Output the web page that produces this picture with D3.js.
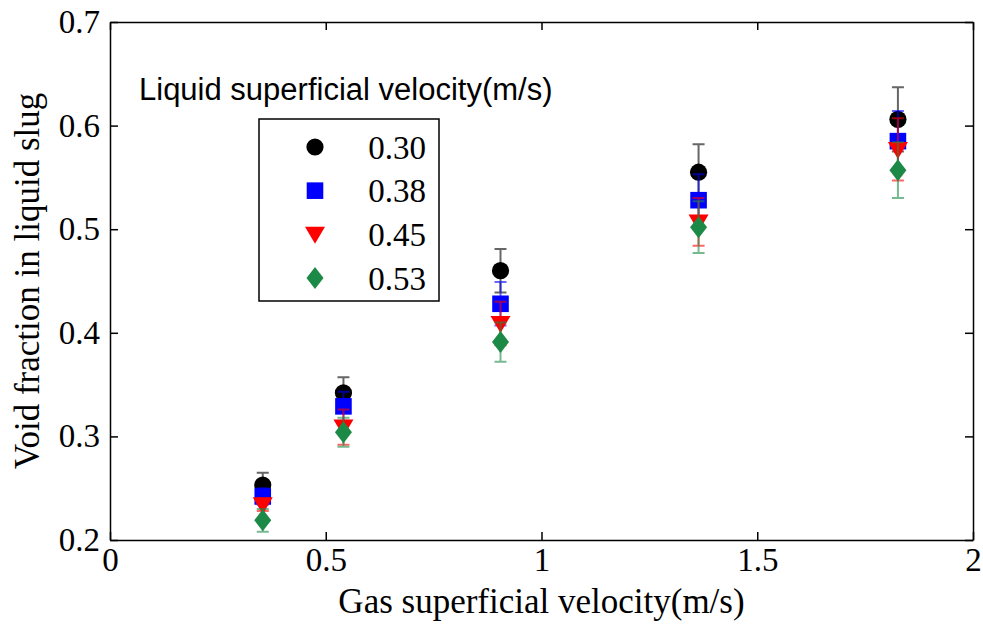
<!DOCTYPE html>
<html lang="en">
  <head>
    <meta charset="utf-8" />
    <title>Void fraction in liquid slug</title>
    <script type="text/javascript" src="https://d3js.org/d3.v7.min.js"></script>
    <style>
      body { margin: 0; background: #fff; }
      .axis path, .axis line { stroke: black; stroke-width: 1.5px; }
      .axis text { font-family: "Liberation Serif", "Times New Roman", serif; font-size: 33px; fill: black; }
      .atitle { font-family: "Liberation Serif", "Times New Roman", serif; font-size: 35px; fill: black; }
      .errbar { fill: none; stroke-width: 2px; stroke-opacity: 0.6; }
    </style>
  </head>
  <body>
    <script>
      let w = 983;
      let h = 625;
      let margin = { left: 110, right: 10, top: 22, bottom: 85 };

      // gas superficial velocity (m/s), shared by all series
      let gasVel = [0.354, 0.541, 0.905, 1.364, 1.826];

      let liqLabels = ["0.30", "0.38", "0.45", "0.53"];
      let v030 = [0.253, 0.342, 0.460, 0.555, 0.606];
      let e030 = [0.012, 0.015, 0.021, 0.027, 0.031];
      let v038 = [0.242, 0.329, 0.428, 0.528, 0.585];
      let e038 = [0.008, 0.014, 0.021, 0.025, 0.029];
      let v045 = [0.234, 0.309, 0.409, 0.507, 0.577];
      let e045 = [0.006, 0.017, 0.021, 0.023, 0.030];
      let v053 = [0.219, 0.304, 0.391, 0.502, 0.557];
      let e053 = [0.011, 0.014, 0.019, 0.025, 0.027];

      let xTicks = [0, 0.5, 1, 1.5, 2];
      let yTicks = [0.2, 0.3, 0.4, 0.5, 0.6, 0.7];

      let series = [
        { label: liqLabels[0], vals: v030, errs: e030, color: "#000000", shape: "circle" },
        { label: liqLabels[1], vals: v038, errs: e038, color: "#0000ff", shape: "square" },
        { label: liqLabels[2], vals: v045, errs: e045, color: "#ff0000", shape: "tri" },
        { label: liqLabels[3], vals: v053, errs: e053, color: "#1c8a46", shape: "diamond" },
      ];

      let svg = d3.select("body").append("svg").attr("width", w).attr("height", h);

      let x = d3.scaleLinear().domain([0, 2]).range([margin.left, w - margin.right]);
      let y = d3.scaleLinear().domain([0.2, 0.7]).range([h - margin.bottom, margin.top]);

      // marker paths, centered on 0,0
      function markerPath(shape) {
        if (shape === "circle") return d3.symbol(d3.symbolCircle, Math.PI * 8.6 * 8.6)();
        if (shape === "square") return "M-8.3,-8.3H8.3V8.3H-8.3Z";
        if (shape === "tri") return "M-10,-7.5H10L0,9.5Z";
        return "M0,-11L8.5,0L0,11L-8.5,0Z";
      }

      // axes (box with inward ticks)
      svg.append("g").attr("class", "axis")
        .attr("transform", `translate(0,${y(0.2)})`)
        .call(d3.axisBottom(x).tickValues(xTicks).tickSizeInner(-8).tickSizeOuter(0).tickPadding(8)
          .tickFormat((d) => String(d)));
      svg.append("g").attr("class", "axis")
        .attr("transform", `translate(0,${y(0.7)})`)
        .call(d3.axisTop(x).tickValues(xTicks).tickSizeInner(-8).tickSizeOuter(0).tickFormat(""));
      svg.append("g").attr("class", "axis")
        .attr("transform", `translate(${x(0)},0)`)
        .call(d3.axisLeft(y).tickValues(yTicks).tickSizeInner(-8).tickSizeOuter(0).tickPadding(10).tickFormat(d3.format(".1f")));
      svg.append("g").attr("class", "axis")
        .attr("transform", `translate(${x(2)},0)`)
        .call(d3.axisRight(y).tickValues(yTicks).tickSizeInner(-8).tickSizeOuter(0).tickFormat(""));

      // data: error bars then markers, series by series
      let cap = 6;
      series.forEach((s) => {
        let g = svg.append("g");
        let pts = gasVel.map((gv, i) => ({ x: gv, y: s.vals[i], e: s.errs[i] }));
        g.selectAll("path.errbar")
          .data(pts)
          .join("path")
          .attr("class", "errbar")
          .attr("stroke", s.color)
          .attr("d", (d) => {
            let cx = x(d.x), y1 = y(d.y + d.e), y0 = y(d.y - d.e);
            return `M${cx},${y0}V${y1}M${cx - cap},${y1}H${cx + cap}M${cx - cap},${y0}H${cx + cap}`;
          });
        g.selectAll("path.mark")
          .data(pts)
          .join("path")
          .attr("class", "mark")
          .attr("fill", s.color)
          .attr("d", markerPath(s.shape))
          .attr("transform", (d) => `translate(${x(d.x)},${y(d.y)})`);
      });

      // axis titles
      svg.append("text").attr("class", "atitle")
        .attr("x", (x(0) + x(2)) / 2).attr("y", 613)
        .attr("text-anchor", "middle")
        .text("Gas superficial velocity(m/s)");
      svg.append("text").attr("class", "atitle")
        .attr("transform", `translate(39,${(y(0.2) + y(0.7)) / 2}) rotate(-90)`)
        .attr("text-anchor", "middle")
        .text("Void fraction in liquid slug");

      // legend
      svg.append("text")
        .attr("x", 139).attr("y", 100)
        .style("font-family", "'Liberation Sans', Arial, sans-serif")
        .style("font-size", "31px")
        .text("Liquid superficial velocity(m/s)");

      let leg = svg.append("g");
      leg.append("rect")
        .attr("x", 259).attr("y", 119).attr("width", 180).attr("height", 182)
        .attr("fill", "white").attr("stroke", "black").attr("stroke-width", 1.5);
      let rowY = d3.scalePoint().domain(liqLabels).range([147, 278]);
      series.forEach((s) => {
        leg.append("path")
          .attr("fill", s.color)
          .attr("d", markerPath(s.shape))
          .attr("transform", `translate(315,${rowY(s.label)})`);
        leg.append("text")
          .attr("x", 426).attr("y", rowY(s.label))
          .attr("dy", "0.35em")
          .attr("text-anchor", "end")
          .style("font-family", "'Liberation Serif', 'Times New Roman', serif")
          .style("font-size", "33px")
          .text(s.label);
      });
    </script>
  </body>
</html>
